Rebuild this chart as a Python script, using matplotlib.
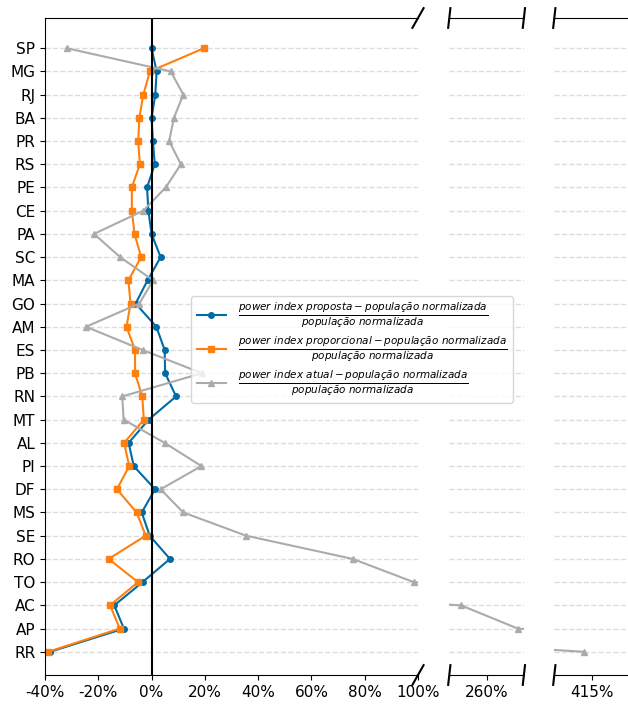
import numpy as np
import matplotlib
matplotlib.use("Agg")
import matplotlib.pyplot as plt
from matplotlib.ticker import FuncFormatter

plt.style.use('tableau-colorblind10')

estados = ['SP', 'MG', 'RJ', 'BA', 'PR', 'RS', 'PE', 'CE', 'PA', 'SC', 'MA', 'GO', 'AM', 'ES',
           'PB', 'RN', 'MT', 'AL', 'PI', 'DF', 'MS', 'SE', 'RO', 'TO', 'AC', 'AP', 'RR']

# desvio relativo (%) do power index em relação à população normalizada
desvio_proposta = [0.0, 1.9, 1.4, 0.0, 0.5, 1.2, -1.7, -1.2, 0.0, 3.4, -1.5, -6.0, 1.8, 4.9,
                   5.1, 9.2, -1.1, -8.6, -6.7, 1.3, -3.7, -0.7, 6.9, -3.4, -14.0, -10.4, -38.1]
desvio_proporcional = [19.7, -0.6, -3.1, -4.6, -5.0, -4.4, -7.4, -7.4, -6.4, -3.9, -8.7, -7.9, -9.4, -6.2,
                       -6.2, -3.5, -2.9, -10.3, -8.4, -13.0, -5.6, -2.2, -16.1, -5.1, -15.6, -11.9, -38.8]
desvio_atual = [-31.9, 7.2, 11.9, 8.4, 6.6, 11.0, 5.3, -3.1, -21.6, -11.8, 0.6, -4.6, -24.6, -3.4,
                18.9, -11.0, -10.5, 4.9, 18.7, 3.4, 11.9, 35.5, 75.5, 98.4, 250.4, 271.7, 412.1]

labels = [
    r'$\frac{power\ index\ proposta - população\ normalizada}{população\ normalizada}$',
    r'$\frac{power\ index\ proporcional - população\ normalizada}{população\ normalizada}$',
    r'$\frac{power\ index\ atual - população\ normalizada}{população\ normalizada}$',
]

y = np.arange(len(estados))[::-1]

fig = plt.figure(figsize=(6.28, 7.06), dpi=100)
bottom, height = 31 / 706, 657 / 706
ax1 = fig.add_axes([45 / 628, bottom, 373 / 628, height])
ax2 = fig.add_axes([449.3 / 628, bottom, 74.6 / 628, height])
ax3 = fig.add_axes([554.3 / 628, bottom, 74.6 / 628, height])
axes = [ax1, ax2, ax3]

for ax in axes:
    ax.plot(desvio_proposta, y, marker='o', markersize=4, label=labels[0])
    ax.plot(desvio_proporcional, y, marker='s', markersize=4, label=labels[1])
    ax.plot(desvio_atual, y, marker='^', markersize=4, label=labels[2])
    ax.set_ylim(-1, 27.3)
    ax.set_yticks(y)
    ax.yaxis.grid(True, linestyle='--', color='#dddddd', linewidth=1)
    ax.xaxis.set_major_formatter(FuncFormatter(lambda v, p: f'{v:.0f}%'))
    ax.spines['right'].set_visible(False)
    ax.tick_params(labelsize=11)

ax1.axvline(0, color='k', linewidth=1.5)
ax1.set_yticklabels(estados)
ax1.set_xlim(-40, 100)
ax1.set_xticks(np.arange(-40, 101, 20))

ax2.set_xlim(246, 274)
ax2.set_xticks([260])
ax3.set_xlim(401, 429)
ax3.set_xticks([415])
for ax in (ax2, ax3):
    ax.spines['left'].set_visible(False)
    ax.tick_params(axis='y', left=False, labelleft=False)

# marcas de quebra do eixo x
d = .015
kw = dict(color='k', clip_on=False, linewidth=1.5)
ax1.plot((1 - d, 1 + d), (-d, d), transform=ax1.transAxes, **kw)
ax1.plot((1 - d, 1 + d), (1 - d, 1 + d), transform=ax1.transAxes, **kw)
for xx in (0, 1):
    ax2.plot((xx - d, xx + d), (-d, d), transform=ax2.transAxes, **kw)
    ax2.plot((xx - d, xx + d), (1 - d, 1 + d), transform=ax2.transAxes, **kw)
ax3.plot((-d, d), (-d, d), transform=ax3.transAxes, **kw)
ax3.plot((-d, d), (1 - d, 1 + d), transform=ax3.transAxes, **kw)

handles, lbls = ax1.get_legend_handles_labels()
fig.legend(handles, lbls, loc='center left', bbox_to_anchor=(184 / 628, 1 - 349.5 / 706),
           fontsize=10.7, labelspacing=0.3, borderpad=0.35)

fig.savefig('out.png', dpi=100)
